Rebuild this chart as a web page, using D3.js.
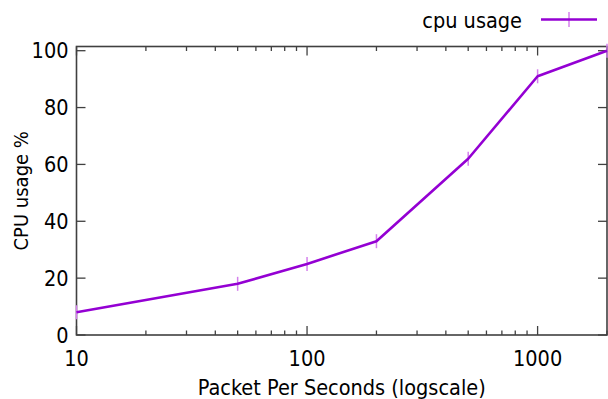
<!DOCTYPE html>
<html>
<head>
<meta charset="utf-8">
<script src="https://cdn.jsdelivr.net/npm/d3@7"></script>
<style>
  html, body { margin: 0; padding: 0; background: #fff; }
  svg text { font-family: "DejaVu Sans Condensed", "DejaVu Sans", sans-serif; fill: #000; }
</style>
</head>
<body>
<svg id="chart" width="608" height="399"></svg>
<script>
// packets per second vs cpu usage
var pps = [10, 50, 100, 200, 500, 1000, 2000];
var cpu = [8, 18, 25, 33, 62, 91, 100];
var yTicks = [0, 20, 40, 60, 80, 100];
var xTicks = [10, 100, 1000];
var seriesName = "cpu usage";

var opts = {
    lineColor: "#9400d3",
    markColor: "#d480ec",
    axisColor: "#404040"
};

var svg = d3.select("#chart");
// plot box (note: "top" is taken by window.top, so use a prefix)
var plotL = 76.5, plotR = 607, plotT = 46.5, plotB = 335;

var x = d3.scaleLog().domain([10, 2000]).range([plotL, plotR]);
var y = d3.scaleLinear().domain([0, 100]).range([plotB, 50.7]);

// minor ticks of the log axis: 2..9 within each decade
var minor = [];
for (var d = 10; d < 2000; d *= 10) {
    for (var k = 2; k <= 9; k++) {
        if (d * k <= 2000) minor.push(d * k);
    }
}

var g = svg.append("g");

// bottom + top ticks (gnuplot mirrors them)
var tickG = g.append("g").attr("stroke", opts.axisColor).attr("stroke-width", 1.3);
xTicks.concat(minor).forEach(function(v) {
    var len = xTicks.indexOf(v) >= 0 ? 9 : 4.5;
    tickG.append("line").attr("x1", x(v)).attr("x2", x(v)).attr("y1", plotB).attr("y2", plotB - len);
    tickG.append("line").attr("x1", x(v)).attr("x2", x(v)).attr("y1", plotT).attr("y2", plotT + len);
});
yTicks.forEach(function(v) {
    tickG.append("line").attr("x1", plotL).attr("x2", plotL + 9).attr("y1", y(v)).attr("y2", y(v));
    tickG.append("line").attr("x1", plotR).attr("x2", plotR - 9).attr("y1", y(v)).attr("y2", y(v));
});

// border
g.append("rect")
    .attr("x", plotL).attr("y", plotT)
    .attr("width", plotR - plotL).attr("height", plotB - plotT)
    .attr("fill", "none").attr("stroke", opts.axisColor).attr("stroke-width", 1.6);

// tick labels
g.selectAll("text.ylab").data(yTicks).enter().append("text")
    .attr("class", "ylab")
    .attr("x", 68.5).attr("y", function(v) { return y(v); })
    .attr("dy", "0.36em")
    .attr("text-anchor", "end")
    .attr("font-size", 21.5)
    .text(function(v) { return v; });

g.selectAll("text.xlab").data(xTicks).enter().append("text")
    .attr("class", "xlab")
    .attr("x", function(v) { return x(v); }).attr("y", 366)
    .attr("text-anchor", "middle")
    .attr("font-size", 21.5)
    .text(function(v) { return v; });

// axis titles
g.append("text")
    .attr("x", (plotL + plotR) / 2).attr("y", 395)
    .attr("text-anchor", "middle").attr("font-size", 21.5)
    .text("Packet Per Seconds (logscale)");

g.append("text")
    .attr("transform", "translate(28," + ((plotT + plotB) / 2) + ") rotate(-90)")
    .attr("text-anchor", "middle").attr("font-size", 20)
    .text("CPU usage %");

// data
var pts = pps.map(function(p, i) { return [p, cpu[i]]; });

g.selectAll("line.mark").data(pts).enter().append("line")
    .attr("class", "mark")
    .attr("x1", function(d) { return x(d[0]); }).attr("x2", function(d) { return x(d[0]); })
    .attr("y1", function(d) { return y(d[1]) - 7; }).attr("y2", function(d) { return y(d[1]) + 7; })
    .attr("stroke", opts.markColor).attr("stroke-width", 1.5);

var line = d3.line().x(function(d) { return x(d[0]); }).y(function(d) { return y(d[1]); });
g.append("path").datum(pts)
    .attr("d", line)
    .attr("fill", "none")
    .attr("stroke", opts.lineColor)
    .attr("stroke-width", 2.6)
    .attr("stroke-linejoin", "round");

// legend
var leg = g.append("g");
leg.append("text")
    .attr("x", 522).attr("y", 20).attr("dy", "0.36em")
    .attr("text-anchor", "end").attr("font-size", 21.5)
    .text(seriesName);
leg.append("line").attr("x1", 569).attr("x2", 569).attr("y1", 12).attr("y2", 27)
    .attr("stroke", opts.markColor).attr("stroke-width", 1.5);
leg.append("line").attr("x1", 541).attr("x2", 597).attr("y1", 19.5).attr("y2", 19.5)
    .attr("stroke", opts.lineColor).attr("stroke-width", 2.6);
</script>
</body>
</html>
